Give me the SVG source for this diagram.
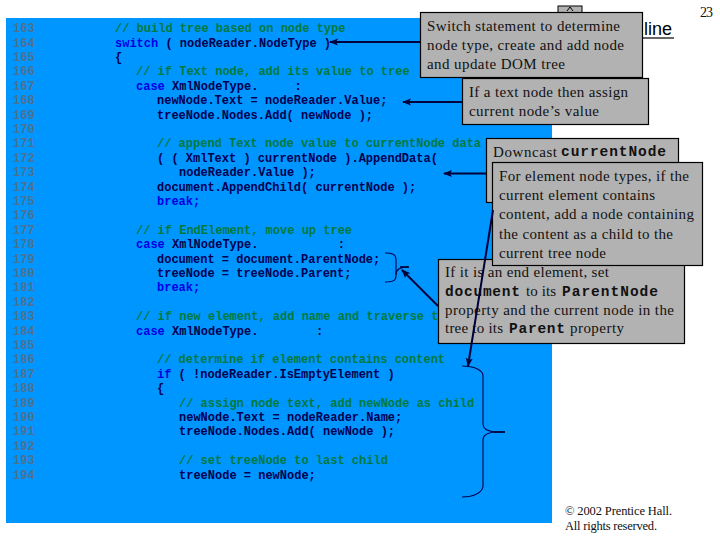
<svg xmlns="http://www.w3.org/2000/svg" width="720" height="540" viewBox="0 0 720 540">
<style>
text{white-space:pre}
.m{font-family:"Liberation Mono",monospace;font-size:12px;font-weight:bold;fill:#000050}
.n{fill:#51708f}
.c{fill:#007a3c}
.k{fill:#0000e6}
.box{fill:#b2b2b2;stroke:#000;stroke-width:1.2}
.s{font-family:"Liberation Serif",serif;font-size:15px;fill:#111}
.b{font-family:"Liberation Mono",monospace;font-size:14.500px;font-weight:bold;fill:#111}
.f{font-family:"Liberation Serif",serif;font-size:12.500px;fill:#111}
.ln{fill:none;stroke:#00003a;stroke-width:2}
.br{fill:none;stroke:#00004a;stroke-width:1.1}
</style>
<defs>
<marker id="ah" markerUnits="userSpaceOnUse" markerWidth="10" markerHeight="8" refX="8" refY="4" orient="auto"><path d="M9 4L0 0.500L2 4L0 7.500Z" fill="#00003a"/></marker>
</defs>
<rect width="720" height="540" fill="#fff"/>
<rect x="6" y="18" width="546" height="505" fill="#0096ff"/>
<g id="code">
<text class="m n" x="13" y="32">163</text><text class="m c" x="115" y="32">// build tree based on node type</text>
<text class="m n" x="13" y="47">164</text><text class="m" x="115" y="47"><tspan class="k">switch</tspan> ( nodeReader.NodeType )</text>
<text class="m n" x="13" y="61">165</text><text class="m" x="115" y="61">{</text>
<text class="m n" x="13" y="75">166</text><text class="m c" x="136" y="75">// if Text node, add its value to tree</text>
<text class="m n" x="13" y="90">167</text><text class="m" x="136" y="90"><tspan class="k">case</tspan> XmlNodeType.     :</text>
<text class="m n" x="13" y="104">168</text><text class="m" x="157" y="104">newNode.Text = nodeReader.Value;</text>
<text class="m n" x="13" y="119">169</text><text class="m" x="157" y="119">treeNode.Nodes.Add( newNode );</text>
<text class="m n" x="13" y="133">170</text>
<text class="m n" x="13" y="147">171</text><text class="m c" x="157" y="147">// append Text node value to currentNode data</text>
<text class="m n" x="13" y="162">172</text><text class="m" x="157" y="162">( ( XmlText ) currentNode ).AppendData(</text>
<text class="m n" x="13" y="176">173</text><text class="m" x="179" y="176">nodeReader.Value );</text>
<text class="m n" x="13" y="191">174</text><text class="m" x="157" y="191">document.AppendChild( currentNode );</text>
<text class="m n" x="13" y="205">175</text><text class="m k" x="157" y="205">break;</text>
<text class="m n" x="13" y="219">176</text>
<text class="m n" x="13" y="234">177</text><text class="m c" x="136" y="234">// if EndElement, move up tree</text>
<text class="m n" x="13" y="248">178</text><text class="m" x="136" y="248"><tspan class="k">case</tspan> XmlNodeType.           :</text>
<text class="m n" x="13" y="263">179</text><text class="m" x="157" y="263">document = document.ParentNode;</text>
<text class="m n" x="13" y="277">180</text><text class="m" x="157" y="277">treeNode = treeNode.Parent;</text>
<text class="m n" x="13" y="291">181</text><text class="m k" x="157" y="291">break;</text>
<text class="m n" x="13" y="306">182</text>
<text class="m n" x="13" y="320">183</text><text class="m c" x="136" y="320">// if new element, add name and traverse tree</text>
<text class="m n" x="13" y="335">184</text><text class="m" x="136" y="335"><tspan class="k">case</tspan> XmlNodeType.        :</text>
<text class="m n" x="13" y="349">185</text>
<text class="m n" x="13" y="363">186</text><text class="m c" x="157" y="363">// determine if element contains content</text>
<text class="m n" x="13" y="378">187</text><text class="m" x="157" y="378"><tspan class="k">if</tspan> ( !nodeReader.IsEmptyElement )</text>
<text class="m n" x="13" y="392">188</text><text class="m" x="157" y="392">{</text>
<text class="m n" x="13" y="407">189</text><text class="m c" x="179" y="407">// assign node text, add newNode as child</text>
<text class="m n" x="13" y="421">190</text><text class="m" x="179" y="421">newNode.Text = nodeReader.Name;</text>
<text class="m n" x="13" y="435">191</text><text class="m" x="179" y="435">treeNode.Nodes.Add( newNode );</text>
<text class="m n" x="13" y="450">192</text>
<text class="m n" x="13" y="464">193</text><text class="m c" x="179" y="464">// set treeNode to last child</text>
<text class="m n" x="13" y="479">194</text><text class="m" x="179" y="479">treeNode = newNode;</text>
</g>
<g id="outline-title">
<rect x="558" y="6" width="24" height="10" fill="#b2b2b2" stroke="#000"/>
<path d="M567 11L570 7L573 11" fill="none" stroke="#000"/>
<text x="644" y="35" font-family="Liberation Sans,sans-serif" font-size="18" fill="#000">line</text>
<path d="M643 38H674" stroke="#000" stroke-width="1.2"/>
<text x="700" y="17" font-family="Liberation Serif,serif" font-size="14" textLength="13" fill="#111">23</text>
</g>
<g id="braces">
<path class="br" d="M385 253C392 253 396 254 396 260V275"/>
<path class="br" d="M396 275Q396 267 408 267Q396 267 396 274V276C396 281 392 282 385 282"/>
<path d="M400 267H409" stroke="#00003a" stroke-width="1.6"/>
<path class="br" d="M462 366C474 366 483 370 483 376V424Q483 431 495 432Q483 433 483 440V486C483 492 474 497 462 497"/>
<path d="M494 432H505" stroke="#00003a" stroke-width="1.8"/>
</g>
<g id="connectors">
<path class="ln" d="M420 42H330" marker-end="url(#ah)"/>
<path class="ln" d="M462 102H403" marker-end="url(#ah)"/>
<path class="ln" d="M486 173.500H444" marker-end="url(#ah)"/>
<path class="ln" d="M438 306L402 270" marker-end="url(#ah)"/>
</g>
<g id="node-switch">
<rect class="box" x="420.500" y="12.500" width="222" height="65"/>
<text class="s" x="427" y="31" textLength="193">Switch statement to determine</text>
<text class="s" x="427" y="50" textLength="197">node type, create and add node</text>
<text class="s" x="427" y="69" textLength="138">and update DOM tree</text>
</g>
<g id="node-text">
<rect class="box" x="462.500" y="78.500" width="186" height="46"/>
<text class="s" x="469" y="97" textLength="159">If a text node then assign</text>
<text class="s" x="469" y="116" textLength="130">current node’s value</text>
</g>
<g id="node-downcast">
<rect class="box" x="486.500" y="138.500" width="192" height="64"/>
<text class="s" x="493" y="157" textLength="64">Downcast</text>
<text class="b" x="561" y="156" textLength="105">currentNode</text>
</g>
<g id="node-end">
<rect class="box" x="438.500" y="259.500" width="246" height="84"/>
<text class="s" x="445" y="277" textLength="164">If it is an end element, set</text>
<text class="b" x="445" y="296" textLength="75">document</text><text class="s" x="526" y="296" textLength="30">to its</text><text class="b" x="562" y="296" textLength="96">ParentNode</text>
<text class="s" x="445" y="315" textLength="229">property and the current node in the</text>
<text class="s" x="445" y="333" textLength="58">tree to its</text><text class="b" x="509" y="333" textLength="56">Parent</text><text class="s" x="570" y="333" textLength="54">property</text>
</g>
<g id="node-element">
<rect class="box" x="492.500" y="162.500" width="210" height="103"/>
<text class="s" x="499" y="181" textLength="190">For element node types, if the</text>
<text class="s" x="499" y="200" textLength="156">current element contains</text>
<text class="s" x="499" y="219" textLength="195">content, add a node containing</text>
<text class="s" x="499" y="239" textLength="174">the content as a child to the</text>
<text class="s" x="499" y="258" textLength="107">current tree node</text>
</g>
<path id="connector-element" class="ln" d="M493 210L468 366" marker-end="url(#ah)"/>
<g id="copyright">
<text class="f" x="565" y="515" textLength="107">© 2002 Prentice Hall.</text>
<text class="f" x="565" y="530" textLength="92">All rights reserved.</text>
</g>
</svg>
